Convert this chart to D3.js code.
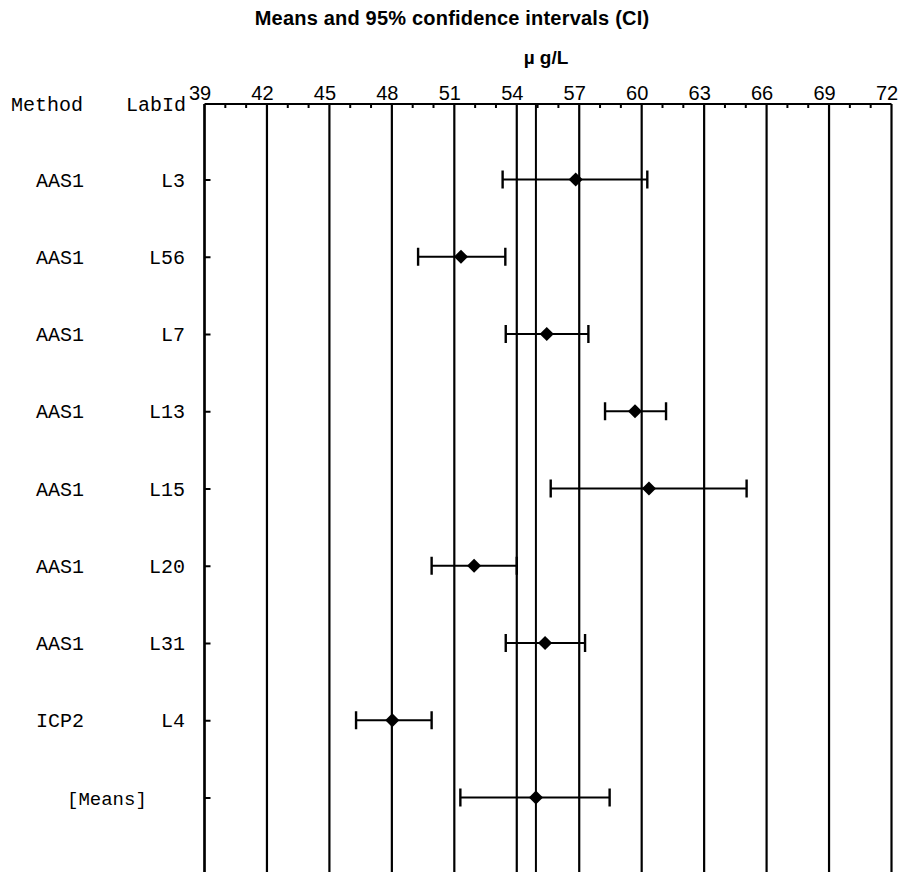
<!DOCTYPE html>
<html>
<head>
<meta charset="utf-8">
<script src="https://cdn.jsdelivr.net/npm/d3@7"></script>
<style>
  html, body { margin: 0; padding: 0; background: #fff; }
  svg { display: block; }
</style>
</head>
<body>
<svg id="chart" width="901" height="872"></svg>
<script>
// ---- data ----
const methods = ["AAS1", "AAS1", "AAS1", "AAS1", "AAS1", "AAS1", "AAS1", "ICP2"];
const labIds  = ["L3", "L56", "L7", "L13", "L15", "L20", "L31", "L4"];
const means   = [56.83, 51.32, 55.44, 59.68, 60.35, 51.95, 55.36, 48.02];
const lower   = [53.32, 49.26, 53.47, 58.24, 55.63, 49.91, 53.47, 46.28];
const upper   = [60.27, 53.45, 57.44, 61.17, 65.04, 54.00, 57.28, 49.91];
const grandMean  = 54.92;
const grandLower = 51.29;
const grandUpper = 58.46;
const xTicks = [39, 42, 45, 48, 51, 54, 57, 60, 63, 66, 69, 72];
const minorTicks = d3.range(39, 73, 1).filter(v => !xTicks.includes(v));
const titleText = "Means and 95% confidence intervals (CI)";
const unitText = "\u00B5 g/L";

const rows = labIds.map((id, i) => ({ method: methods[i], lab: id, mean: means[i], lo: lower[i], hi: upper[i], key: id }));
rows.push({ method: "", lab: "[Means]", mean: grandMean, lo: grandLower, hi: grandUpper, key: "[Means]" });

// ---- layout ----
const svg = d3.select("#chart");
const W = 901, H = 872;
const axisY = 104;
const x = d3.scaleLinear().domain([39, 72]).range([204.5, 891.5]);
const y = d3.scalePoint().domain(rows.map(r => r.key)).range([179.5, 797.5]);

svg.append("rect").attr("width", W).attr("height", H).attr("fill", "#fff");

// title
svg.append("text")
  .attr("x", 452).attr("y", 25)
  .attr("text-anchor", "middle")
  .attr("font-family", "Liberation Sans, Arial, sans-serif")
  .attr("font-weight", "bold").attr("font-size", 20)
  .attr("letter-spacing", "0.2px")
  .text(titleText);

svg.append("text")
  .attr("x", (x.range()[0] + x.range()[1]) / 2 - 2).attr("y", 64)
  .attr("text-anchor", "middle")
  .attr("font-family", "Liberation Sans, Arial, sans-serif")
  .attr("font-weight", "bold").attr("font-size", 19)
  .text(unitText);

// vertical grid lines at major ticks
svg.append("g").selectAll("line").data(xTicks).join("line")
  .attr("x1", d => x(d)).attr("x2", d => x(d))
  .attr("y1", axisY).attr("y2", H)
  .attr("stroke", "#000").attr("stroke-width", 2.2);

// grand mean line
svg.append("line")
  .attr("x1", x(grandMean)).attr("x2", x(grandMean))
  .attr("y1", axisY).attr("y2", H)
  .attr("stroke", "#000").attr("stroke-width", 2);

// top axis
const xAxis = d3.axisTop(x).tickValues(xTicks).tickSize(0).tickPadding(4).tickFormat(d3.format("d"));
const gx = svg.append("g").attr("transform", `translate(0,${axisY})`).call(xAxis);
gx.select(".domain").attr("stroke", "#000").attr("stroke-width", 2.2).attr("d", `M${x.range()[0]},0H${x.range()[1]}`);
gx.selectAll("text")
  .attr("font-family", "Liberation Sans, Arial, sans-serif")
  .attr("font-size", 20).attr("fill", "#000")
  .attr("dx", -5);

// minor ticks
svg.append("g").selectAll("line").data(minorTicks).join("line")
  .attr("x1", d => x(d)).attr("x2", d => x(d))
  .attr("y1", axisY).attr("y2", axisY + 4)
  .attr("stroke", "#000").attr("stroke-width", 2);

// left axis with row ticks
const yAxis = d3.axisRight(y).tickSize(6).tickFormat("");
const gy = svg.append("g").attr("transform", `translate(${x.range()[0]},0)`).call(yAxis);
gy.select(".domain").attr("d", `M0,${axisY}V${H}`).attr("stroke", "#000").attr("stroke-width", 2.2);
gy.selectAll(".tick line").attr("stroke", "#000").attr("stroke-width", 2);

// header labels
const monoFont = "Liberation Mono, Courier New, monospace";
svg.append("text").attr("x", 11).attr("y", 111)
  .attr("font-family", monoFont).attr("font-size", 20).text("Method");
svg.append("text").attr("x", 186).attr("y", 111).attr("text-anchor", "end")
  .attr("font-family", monoFont).attr("font-size", 20).text("LabId");

// row labels
const lab = svg.append("g");
lab.selectAll("text.method").data(rows.filter(r => r.method)).join("text")
  .attr("class", "method")
  .attr("x", 36).attr("y", d => y(d.key) + 7)
  .attr("font-family", monoFont).attr("font-size", 20)
  .text(d => d.method);
lab.selectAll("text.lab").data(rows.filter(r => r.method)).join("text")
  .attr("class", "lab")
  .attr("x", 185).attr("y", d => y(d.key) + 7).attr("text-anchor", "end")
  .attr("font-family", monoFont).attr("font-size", 20)
  .text(d => d.lab);
lab.selectAll("text.means").data(rows.filter(r => !r.method)).join("text")
  .attr("class", "means")
  .attr("x", 67).attr("y", d => y(d.key) + 7)
  .attr("font-family", monoFont).attr("font-size", 19)
  .text(d => d.lab);

// error bars
const eb = svg.append("g").selectAll("g").data(rows).join("g");
eb.append("line")
  .attr("x1", d => x(d.lo)).attr("x2", d => x(d.hi))
  .attr("y1", d => y(d.key)).attr("y2", d => y(d.key))
  .attr("stroke", "#000").attr("stroke-width", 2.2);
eb.append("line")
  .attr("x1", d => x(d.lo)).attr("x2", d => x(d.lo))
  .attr("y1", d => y(d.key) - 9).attr("y2", d => y(d.key) + 9)
  .attr("stroke", "#000").attr("stroke-width", 2.4);
eb.append("line")
  .attr("x1", d => x(d.hi)).attr("x2", d => x(d.hi))
  .attr("y1", d => y(d.key) - 9).attr("y2", d => y(d.key) + 9)
  .attr("stroke", "#000").attr("stroke-width", 2.4);
eb.append("path")
  .attr("d", d3.symbol(d3.symbolSquare, 100)())
  .attr("transform", d => `translate(${x(d.mean)},${y(d.key)}) rotate(45)`)
  .attr("fill", "#000");
</script>
</body>
</html>
